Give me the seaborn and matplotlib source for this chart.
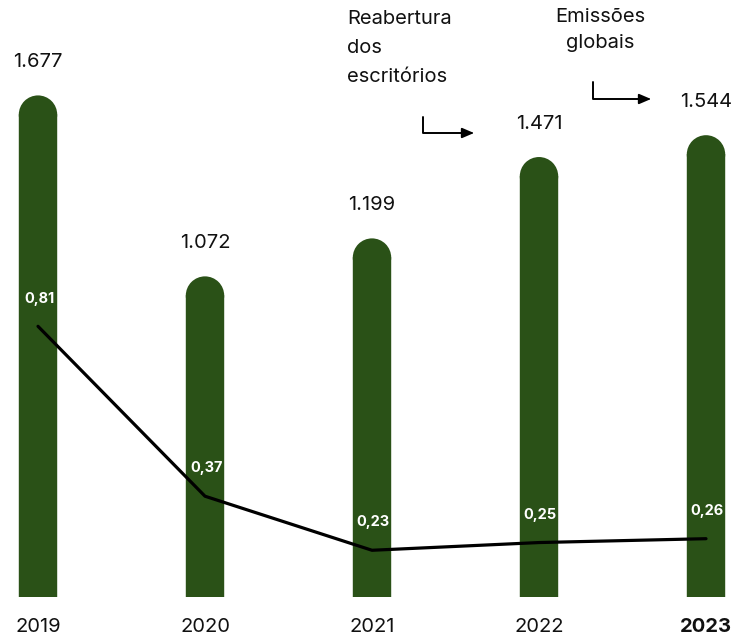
import matplotlib
matplotlib.use("Agg")
import matplotlib.pyplot as plt
import seaborn as sns
import pandas as pd
from matplotlib.patches import Ellipse, FancyArrowPatch

years = ["2019", "2020", "2021", "2022", "2023"]
emissions = [1677, 1072, 1199, 1471, 1544]
emission_labels = ["1.677", "1.072", "1.199", "1.471", "1.544"]
intensity = [0.81, 0.37, 0.23, 0.25, 0.26]
intensity_labels = ["0,81", "0,37", "0,23", "0,25", "0,26"]

GREEN = "#2a5117"
W, H = 734, 638

sns.set_theme(style="white")
plt.rcParams["font.family"] = ["Inter", "DejaVu Sans"]

df = pd.DataFrame({"year": years, "emissions": emissions, "intensity": intensity})

fig = plt.figure(figsize=(W / 100, H / 100), dpi=100)
ax = fig.add_axes([0, 41 / H, 1, 597 / H])

sns.barplot(data=df, x="year", y="emissions", color=GREEN, width=0.23,
            saturation=1, ax=ax)
ax.set_xlim(-38 / 167, (W - 38) / 167)
ax.set_ylim(0, 1996)

# Give each bar a semicircular top: shorten the rectangle and add a half-round cap
px_per_x = 167.0
px_per_y = 597 / 1996
for p in list(ax.patches):
    x0, w, h = p.get_x(), p.get_width(), p.get_height()
    ry = (w / 2) * px_per_x / px_per_y
    p.set_height(h - ry * 0.98)
    p.set_edgecolor("none")
    p.set_linewidth(0)
    p.set_snap(False)
    cap = Ellipse((x0 + w / 2, h - ry), w, 2 * ry, facecolor=GREEN,
                  edgecolor="none", linewidth=0)
    cap.set_snap(False)
    ax.add_patch(cap)

for i, (v, lab) in enumerate(zip(emissions, emission_labels)):
    ax.annotate(lab, (i, v), xytext=(0, 24), textcoords="offset points",
                ha="center", va="center", fontsize=14.5, color="#111111")

ax.set_xlabel("")
ax.set_ylabel("")
ax.set_yticks([])
ax.tick_params(axis="x", length=0, pad=15, labelsize=14.5, labelcolor="#111111")
for t in ax.get_xticklabels():
    if t.get_text() == "2023":
        t.set_fontweight("bold")
for s in ax.spines.values():
    s.set_visible(False)

ax2 = ax.twinx()
sns.lineplot(data=df, x="year", y="intensity", color="black", linewidth=2.3,
             ax=ax2, sort=False)
ax2.set_ylim(0.109, 1.655)
ax2.set_yticks([])
ax2.set_ylabel("")
ax2.set_xlim(ax.get_xlim())
for s in ax2.spines.values():
    s.set_visible(False)
for i, (v, lab) in enumerate(zip(intensity, intensity_labels)):
    ax2.annotate(lab, (i, v), xytext=(1, 20), textcoords="offset points",
                 ha="center", va="center", fontsize=10.5, color="white",
                 fontweight="bold")

# Annotations
def fp(x, y):
    return (x / W, 1 - y / H)

fig.text(*fp(347, 10), "Reabertura\ndos\nescritórios", ha="left", va="top",
         fontsize=14.5, color="#111111", linespacing=1.78)
fig.text(*fp(600, 8), "Emissões\nglobais", ha="center", va="top",
         fontsize=14.5, color="#111111", linespacing=1.6)

for (xs, ys, xe, ye) in [(423, 117, 474, 133), (593, 82, 651, 99)]:
    fig.add_artist(FancyArrowPatch(
        fp(xs, ys), fp(xe, ye), transform=fig.transFigure,
        arrowstyle="-|>,head_length=0.7,head_width=0.3",
        connectionstyle="angle,angleA=90,angleB=0,rad=0",
        color="black", linewidth=1.4, mutation_scale=10,
        shrinkA=0, shrinkB=0))

fig.savefig("out.png", dpi=100)
